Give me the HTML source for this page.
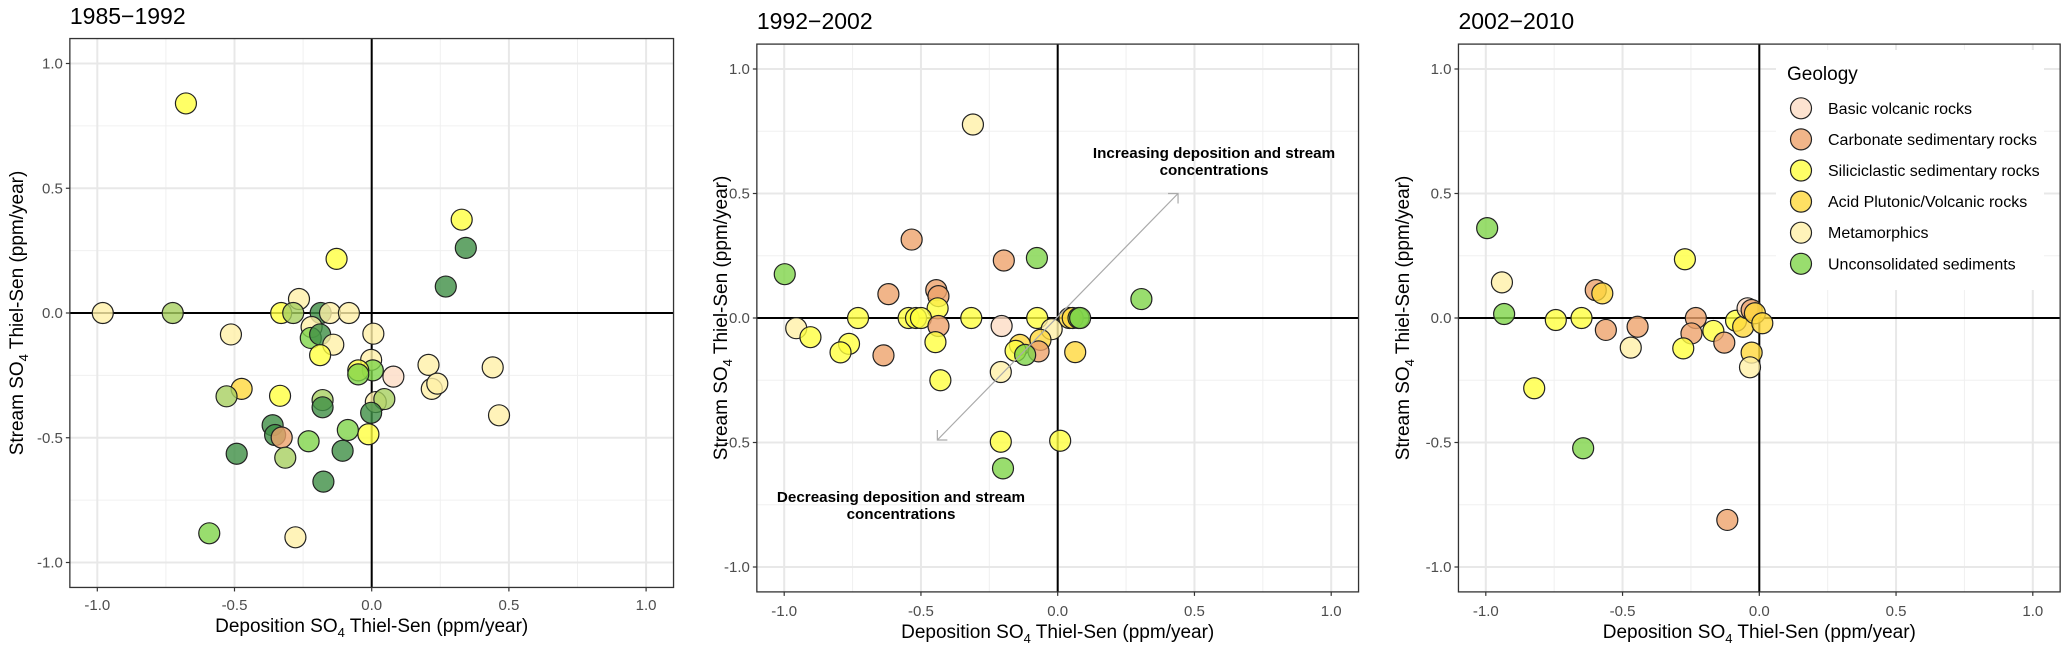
<!DOCTYPE html>
<html><head><meta charset="utf-8"><style>
html,body{margin:0;padding:0;background:#fff;}
svg{display:block;font-family:"Liberation Sans",Arial,sans-serif;}
</style></head><body>
<svg id="chart" width="2067" height="646" viewBox="0 0 2067 646" xmlns="http://www.w3.org/2000/svg"></svg>
<script>
// Category codes: B basic volcanic, C carbonate, S siliciclastic, A acid plutonic, M metamorphics, U unconsolidated, D dark green, L light green
const p1x=[-0.677,-0.98,-0.725,-0.128,-0.265,-0.33,-0.286,-0.186,-0.152,-0.083,-0.513,-0.219,-0.222,-0.188,-0.14,-0.188,0.006,-0.002,0.004,-0.049,-0.049,0.079,0.207,0.219,0.239,0.441,0.464,0.328,0.343,0.27,-0.474,-0.529,-0.334,-0.179,-0.179,0.015,0.046,-0.002,-0.012,-0.087,-0.361,-0.352,-0.328,-0.23,-0.106,-0.492,-0.315,-0.176,-0.592,-0.278];
const p1y=[0.84,0,0,0.217,0.056,0,0,0,0,0,-0.086,-0.056,-0.10,-0.086,-0.127,-0.169,-0.083,-0.188,-0.23,-0.23,-0.246,-0.255,-0.208,-0.304,-0.283,-0.218,-0.41,0.374,0.261,0.106,-0.304,-0.334,-0.332,-0.349,-0.378,-0.357,-0.345,-0.40,-0.486,-0.469,-0.45,-0.489,-0.499,-0.514,-0.552,-0.564,-0.58,-0.676,-0.883,-0.899];
const p1g=["S","M","L","S","M","S","L","D","M","M","M","M","U","D","M","S","M","M","U","S","U","B","M","M","M","M","M","S","D","D","A","L","S","L","D","M","L","D","S","U","D","D","C","U","D","D","L","D","U","M"];

const p2x=[-0.31,-0.534,-0.197,-0.076,-0.998,-0.619,-0.444,-0.436,-0.439,0.306,-0.73,-0.545,-0.518,-0.5,-0.316,-0.075,0.043,0.055,0.076,0.082,-0.956,-0.904,-0.763,-0.794,-0.637,-0.436,-0.447,-0.205,-0.022,-0.063,-0.138,-0.154,-0.07,-0.119,0.064,-0.429,-0.208,-0.208,0.009,-0.2];
const p2y=[0.777,0.315,0.231,0.241,0.176,0.096,0.112,0.088,0.039,0.076,0,0,0,0,0,0,0,0,0,0,-0.041,-0.077,-0.104,-0.138,-0.15,-0.032,-0.097,-0.032,-0.045,-0.088,-0.108,-0.132,-0.134,-0.148,-0.137,-0.25,-0.217,-0.497,-0.493,-0.604];
const p2g=["M","C","C","U","U","C","C","C","S","U","S","S","S","S","S","S","A","A","U","U","M","S","S","S","C","C","S","B","M","A","A","S","C","U","A","S","M","S","S","U"];

const p3x=[-0.995,-0.941,-0.933,-0.744,-0.65,-0.823,-0.644,-0.598,-0.574,-0.561,-0.445,-0.47,-0.272,-0.232,-0.248,-0.278,-0.168,-0.128,-0.085,-0.059,-0.043,-0.028,-0.016,0.011,-0.028,-0.034,-0.117];
const p3y=[0.361,0.143,0.016,-0.008,0,-0.282,-0.523,0.112,0.099,-0.048,-0.035,-0.119,0.236,0,-0.062,-0.122,-0.052,-0.099,-0.011,-0.035,0.039,0.032,0.019,-0.021,-0.139,-0.198,-0.811];
const p3g=["U","M","U","S","S","S","U","C","A","C","C","M","S","C","C","S","S","C","S","A","B","C","A","A","A","M","C"];

const titles=["1985\u22121992","1992\u22122002","2002\u22122010"];
const tickVals=[-1.0,-0.5,0.0,0.5,1.0];
const tickLabels=["-1.0","-0.5","0.0","0.5","1.0"];
const legendCodes=["B","C","S","A","M","U"];
const legendLabels=["Basic volcanic rocks","Carbonate sedimentary rocks","Siliciclastic sedimentary rocks","Acid Plutonic/Volcanic rocks","Metamorphics","Unconsolidated sediments"];

const COL={B:"#fddcc4",C:"#eea36c",S:"#ffff40",A:"#ffd83c",M:"#fff0a8",U:"#7fd44a",D:"#3f8f45",L:"#a8d060"};
const NS="http://www.w3.org/2000/svg";
const svg=document.getElementById("chart");
function mk(tag,attrs,parent){const e=document.createElementNS(NS,tag);for(const k in attrs)e.setAttribute(k,attrs[k]);(parent||svg).appendChild(e);return e;}

const panels=[
 {x0:371.7,ux:274.4,y0:313,uy:249.5,xs:p1x,ys:p1y,gs:p1g,ytx:16,ttlY:24,tkY:610,axY:632},
 {x0:1057.7,ux:273.5,y0:318,uy:249,xs:p2x,ys:p2y,gs:p2g,ytx:720,ttlY:29,tkY:616,axY:638},
 {x0:1759.3,ux:273.5,y0:318,uy:249,xs:p3x,ys:p3y,gs:p3g,ytx:1402,ttlY:29,tkY:616,axY:638}
];

panels.forEach((p,pi)=>{
  const X=v=>p.x0+v*p.ux, Y=v=>p.y0-v*p.uy;
  const L=X(-1.1),R=X(1.1),T=Y(1.1),B=Y(-1.1);
  const g=mk("g",{});
  
  
  mk("rect",{x:L,y:T,width:R-L,height:B-T,fill:"#fff"},g);
  for(let v=-0.75;v<=0.8;v+=0.5){
    mk("line",{x1:X(v),x2:X(v),y1:T,y2:B,stroke:"#f0f0f0","stroke-width":1},g);
    mk("line",{x1:L,x2:R,y1:Y(v),y2:Y(v),stroke:"#f0f0f0","stroke-width":1},g);
  }
  tickVals.forEach(v=>{
    mk("line",{x1:X(v),x2:X(v),y1:T,y2:B,stroke:"#e8e8e8","stroke-width":2},g);
    mk("line",{x1:L,x2:R,y1:Y(v),y2:Y(v),stroke:"#e8e8e8","stroke-width":2},g);
  });
  mk("line",{x1:L,x2:R,y1:Y(0),y2:Y(0),stroke:"#000","stroke-width":2},g);
  mk("line",{x1:X(0),x2:X(0),y1:T,y2:B,stroke:"#000","stroke-width":2},g);
  p.xs.forEach((xv,i)=>{
    const c=mk("circle",{cx:X(xv),cy:Y(p.ys[i]),r:10.5,fill:COL[p.gs[i]],"fill-opacity":0.8,stroke:"#222","stroke-width":1.2},g);
    
    
  });
  mk("rect",{x:L,y:T,width:R-L,height:B-T,fill:"none",stroke:"#333","stroke-width":1.3},g);
  tickVals.forEach((v,i)=>{
    mk("line",{x1:X(v),x2:X(v),y1:B,y2:B+4,stroke:"#333","stroke-width":1.2},g);
    mk("line",{x1:L-4,x2:L,y1:Y(v),y2:Y(v),stroke:"#333","stroke-width":1.2},g);
    const tx=mk("text",{x:X(v),y:p.tkY,"text-anchor":"middle","font-size":15,fill:"#4d4d4d"},g);
    tx.textContent=tickLabels[i];
    
    
    const ty=mk("text",{x:L-7,y:Y(v)+5,"text-anchor":"end","font-size":15,fill:"#4d4d4d"},g);
    ty.textContent=tickLabels[i];
    
    
  });
  const tt=mk("text",{x:L,y:p.ttlY,"font-size":23,fill:"#000"},g);
  tt.textContent=titles[pi];
  
  
  const xt=mk("text",{x:(L+R)/2,y:p.axY,"text-anchor":"middle","font-size":19,fill:"#000"},g);
  xt.innerHTML='Deposition SO<tspan font-size="13" dy="5">4</tspan><tspan dy="-5"> Thiel-Sen (ppm/year)</tspan>';
  
  
  const cy=(T+B)/2;
  const yt=mk("text",{x:0,y:0,"text-anchor":"middle","font-size":19,fill:"#000",transform:`translate(${p.ytx+7},${cy}) rotate(-90)`},g);
  yt.innerHTML='Stream SO<tspan font-size="13" dy="5">4</tspan><tspan dy="-5"> Thiel-Sen (ppm/year)</tspan>';
  
  

  if(pi===1){
    const ag=mk("g",{stroke:"#aaa","stroke-width":1.2,fill:"none"},g);
    
    
    const ax1=X(-0.44),ay1=Y(-0.49),ax2=X(0.44),ay2=Y(0.5);
    mk("line",{x1:ax1,y1:ay1,x2:ax2,y2:ay2},ag);
    mk("polyline",{points:`${ax2-10},${ay2} ${ax2},${ay2} ${ax2},${ay2+10}`},ag);
    mk("polyline",{points:`${ax1},${ay1-10} ${ax1},${ay1} ${ax1+10},${ay1}`},ag);
    const a1=mk("text",{x:1214,y:158,"text-anchor":"middle","font-size":15.2,"font-weight":"bold",fill:"#000"},g);
    a1.innerHTML='<tspan x="1214">Increasing deposition and stream</tspan><tspan x="1214" dy="17">concentrations</tspan>';
    
    
    const a2=mk("text",{x:901,y:502,"text-anchor":"middle","font-size":15.2,"font-weight":"bold",fill:"#000"},g);
    a2.innerHTML='<tspan x="901">Decreasing deposition and stream</tspan><tspan x="901" dy="17">concentrations</tspan>';
    
    
  }
});

const lg=mk("g",{});


mk("rect",{x:1776,y:50,width:268,height:240,fill:"#fff"},lg);
const lt=mk("text",{x:1787,y:80,"font-size":19,fill:"#000"},lg);
lt.textContent="Geology";


legendCodes.forEach((c,i)=>{
  const y=108.3+i*31.1;
  const e=mk("g",{},lg);
  
  
  mk("circle",{cx:1801,cy:y,r:10.5,fill:COL[c],"fill-opacity":0.8,stroke:"#222","stroke-width":1.2},e);
  const t=mk("text",{x:1828,y:y+5.5,"font-size":16,fill:"#000"},e);
  t.textContent=legendLabels[i];
});
</script>
</body></html>
